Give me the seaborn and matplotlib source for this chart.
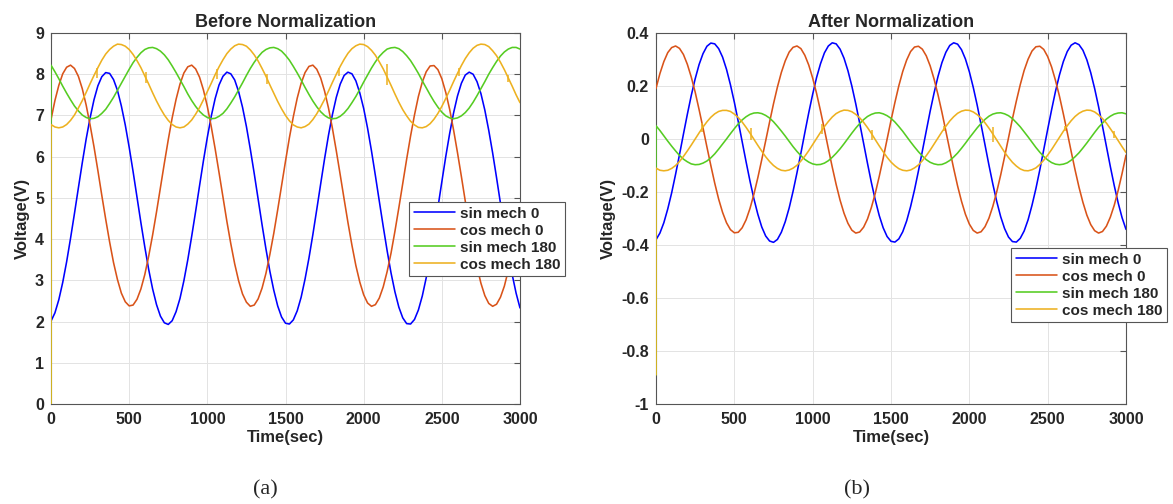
"""
Resolver outputs before and after normalization (two panels).
"""
import numpy as np
import pandas as pd
import seaborn as sns
import matplotlib.pyplot as plt

# sample times (sec)
t = list(range(0, 3001, 25))

# ---- panel (a): before normalization, volts ----
sin0_a = [2.01, 2.21, 2.53, 2.95, 3.45, 4.02, 4.62, 5.24, 5.85, 6.43,
          6.94, 7.38, 7.72, 7.94, 8.04, 8.02, 7.87, 7.61, 7.23, 6.77,
          6.23, 5.64, 5.02, 4.40, 3.81, 3.26, 2.79, 2.41, 2.13, 1.97,
          1.93, 2.02, 2.24, 2.56, 2.99, 3.50, 4.07, 4.67, 5.29, 5.90,
          6.47, 6.98, 7.41, 7.74, 7.95, 8.05, 8.01, 7.86, 7.58, 7.20,
          6.73, 6.18, 5.59, 4.97, 4.35, 3.76, 3.22, 2.76, 2.38, 2.11,
          1.96, 1.94, 2.04, 2.26, 2.59, 3.03, 3.54, 4.11, 4.72, 5.34,
          5.95, 6.52, 7.02, 7.44, 7.76, 7.97, 8.05, 8.01, 7.84, 7.55,
          7.17, 6.69, 6.14, 5.54, 4.92, 4.31, 3.72, 3.18, 2.72, 2.35,
          2.09, 1.95, 1.94, 2.05, 2.28, 2.62, 3.06, 3.58, 4.16, 4.77,
          5.39, 6.00, 6.56, 7.06, 7.47, 7.78, 7.98, 8.05, 8.00, 7.82,
          7.53, 7.13, 6.64, 6.09, 5.49, 4.87, 4.26, 3.67, 3.14, 2.69,
          2.33]
cos0_a = [6.90, 7.36, 7.73, 8.01, 8.17, 8.22, 8.14, 7.95, 7.65, 7.25,
          6.77, 6.24, 5.66, 5.06, 4.48, 3.93, 3.43, 3.02, 2.69, 2.48,
          2.38, 2.40, 2.54, 2.79, 3.14, 3.59, 4.10, 4.66, 5.25, 5.84,
          6.41, 6.94, 7.39, 7.76, 8.03, 8.18, 8.22, 8.13, 7.93, 7.62,
          7.22, 6.73, 6.19, 5.61, 5.02, 4.43, 3.89, 3.40, 2.99, 2.67,
          2.47, 2.37, 2.40, 2.55, 2.81, 3.17, 3.63, 4.14, 4.71, 5.30,
          5.89, 6.46, 6.97, 7.42, 7.78, 8.04, 8.19, 8.22, 8.12, 7.91,
          7.59, 7.18, 6.69, 6.14, 5.56, 4.97, 4.39, 3.85, 3.36, 2.96,
          2.65, 2.45, 2.37, 2.41, 2.57, 2.84, 3.21, 3.66, 4.19, 4.76,
          5.35, 5.94, 6.50, 7.01, 7.46, 7.81, 8.06, 8.20, 8.21, 8.11,
          7.89, 7.56, 7.15, 6.65, 6.10, 5.52, 4.92, 4.34, 3.81, 3.33,
          2.93, 2.63, 2.44, 2.37, 2.42, 2.59, 2.86, 3.24, 3.70, 4.23,
          4.80]
sin180_a = [8.22, 8.06, 7.89, 7.71, 7.54, 7.38, 7.23, 7.11, 7.01, 6.95,
            6.92, 6.93, 6.97, 7.05, 7.15, 7.29, 7.44, 7.61, 7.78, 7.95,
            8.12, 8.28, 8.41, 8.52, 8.60, 8.64, 8.65, 8.62, 8.56, 8.47,
            8.35, 8.20, 8.04, 7.87, 7.70, 7.52, 7.36, 7.22, 7.10, 7.01,
            6.95, 6.92, 6.93, 6.98, 7.05, 7.16, 7.30, 7.45, 7.62, 7.79,
            7.97, 8.14, 8.29, 8.42, 8.53, 8.60, 8.64, 8.65, 8.62, 8.56,
            8.46, 8.34, 8.19, 8.03, 7.86, 7.68, 7.51, 7.35, 7.21, 7.09,
            7.00, 6.94, 6.92, 6.93, 6.98, 7.06, 7.17, 7.31, 7.46, 7.63,
            7.81, 7.98, 8.15, 8.30, 8.43, 8.53, 8.61, 8.64, 8.65, 8.62,
            8.55, 8.45, 8.33, 8.18, 8.02, 7.84, 7.67, 7.50, 7.34, 7.20,
            7.08, 6.99, 6.94, 6.92, 6.94, 6.99, 7.07, 7.18, 7.32, 7.48,
            7.65, 7.82, 8.00, 8.16, 8.31, 8.44, 8.54, 8.61, 8.65, 8.65,
            8.61]
cos180_a = [6.78, 6.72, 6.70, 6.72, 6.78, 6.88, 7.01, 7.18, 7.36, 7.56,
            7.77, 7.97, 8.16, 8.34, 8.49, 8.60, 8.68, 8.73, 8.72, 8.68,
            8.60, 8.48, 8.33, 8.16, 7.96, 7.76, 7.55, 7.35, 7.17, 7.01,
            6.88, 6.78, 6.72, 6.70, 6.72, 6.79, 6.89, 7.03, 7.19, 7.38,
            7.58, 7.78, 7.99, 8.18, 8.35, 8.50, 8.61, 8.69, 8.73, 8.72,
            8.68, 8.59, 8.47, 8.32, 8.14, 7.95, 7.74, 7.54, 7.34, 7.16,
            7.00, 6.87, 6.77, 6.72, 6.70, 6.73, 6.79, 6.90, 7.04, 7.21,
            7.39, 7.59, 7.80, 8.00, 8.19, 8.36, 8.51, 8.62, 8.69, 8.73,
            8.72, 8.67, 8.58, 8.46, 8.30, 8.13, 7.93, 7.73, 7.52, 7.32,
            7.14, 6.99, 6.86, 6.77, 6.71, 6.70, 6.73, 6.80, 6.91, 7.05,
            7.22, 7.41, 7.61, 7.82, 8.02, 8.21, 8.38, 8.52, 8.63, 8.70,
            8.73, 8.72, 8.67, 8.57, 8.45, 8.29, 8.11, 7.91, 7.71, 7.50,
            7.31]
init_a = 0.0   # first sample of the 180 deg channels

# ---- panel (b): after normalization ----
sin0_b = [-0.380, -0.355, -0.316, -0.264, -0.203, -0.133, -0.059, 0.018, 0.093, 0.164,
          0.227, 0.281, 0.322, 0.350, 0.362, 0.359, 0.341, 0.309, 0.263, 0.205,
          0.139, 0.066, -0.010, -0.086, -0.159, -0.226, -0.284, -0.332, -0.366, -0.385,
          -0.390, -0.379, -0.352, -0.312, -0.260, -0.197, -0.127, -0.053, 0.024, 0.099,
          0.169, 0.232, 0.284, 0.325, 0.351, 0.363, 0.359, 0.339, 0.305, 0.258,
          0.200, 0.133, 0.060, -0.016, -0.092, -0.165, -0.231, -0.289, -0.335, -0.368,
          -0.386, -0.389, -0.377, -0.350, -0.309, -0.255, -0.192, -0.121, -0.046, 0.030,
          0.105, 0.174, 0.236, 0.288, 0.327, 0.353, 0.363, 0.358, 0.337, 0.302,
          0.254, 0.195, 0.128, 0.054, -0.022, -0.098, -0.170, -0.236, -0.293, -0.338,
          -0.370, -0.387, -0.389, -0.375, -0.347, -0.305, -0.250, -0.187, -0.116, -0.040,
          0.036, 0.110, 0.180, 0.241, 0.292, 0.330, 0.354, 0.363, 0.356, 0.335,
          0.299, 0.250, 0.190, 0.122, 0.048, -0.028, -0.104, -0.176, -0.241, -0.297,
          -0.341]
cos0_b = [0.191, 0.247, 0.292, 0.326, 0.345, 0.351, 0.342, 0.319, 0.282, 0.234,
          0.177, 0.111, 0.042, -0.030, -0.100, -0.167, -0.227, -0.277, -0.316, -0.342,
          -0.354, -0.352, -0.335, -0.305, -0.262, -0.208, -0.146, -0.078, -0.007, 0.064,
          0.133, 0.196, 0.251, 0.295, 0.328, 0.346, 0.351, 0.341, 0.316, 0.279,
          0.230, 0.172, 0.106, 0.036, -0.036, -0.106, -0.172, -0.231, -0.280, -0.318,
          -0.344, -0.355, -0.351, -0.333, -0.302, -0.258, -0.204, -0.141, -0.073, -0.001,
          0.070, 0.138, 0.201, 0.255, 0.298, 0.330, 0.347, 0.350, 0.339, 0.314,
          0.276, 0.226, 0.167, 0.101, 0.030, -0.041, -0.111, -0.177, -0.235, -0.284,
          -0.321, -0.345, -0.355, -0.350, -0.331, -0.299, -0.254, -0.199, -0.136, -0.067,
          0.004, 0.076, 0.143, 0.205, 0.259, 0.301, 0.332, 0.348, 0.350, 0.338,
          0.311, 0.272, 0.221, 0.162, 0.095, 0.025, -0.047, -0.117, -0.182, -0.239,
          -0.287, -0.323, -0.346, -0.355, -0.349, -0.329, -0.295, -0.250, -0.194, -0.130,
          -0.061]
sin180_b = [0.050, 0.032, 0.012, -0.008, -0.027, -0.045, -0.062, -0.076, -0.086, -0.094,
            -0.097, -0.096, -0.091, -0.083, -0.071, -0.056, -0.038, -0.019, 0.000, 0.020,
            0.039, 0.057, 0.072, 0.084, 0.093, 0.098, 0.099, 0.096, 0.089, 0.079,
            0.065, 0.048, 0.030, 0.011, -0.009, -0.029, -0.047, -0.063, -0.077, -0.087,
            -0.094, -0.097, -0.096, -0.091, -0.082, -0.069, -0.054, -0.037, -0.018, 0.002,
            0.022, 0.041, 0.058, 0.073, 0.085, 0.093, 0.098, 0.099, 0.095, 0.088,
            0.078, 0.064, 0.047, 0.029, 0.009, -0.011, -0.030, -0.048, -0.064, -0.078,
            -0.088, -0.094, -0.097, -0.096, -0.090, -0.081, -0.068, -0.053, -0.035, -0.016,
            0.004, 0.023, 0.042, 0.059, 0.074, 0.086, 0.094, 0.098, 0.099, 0.095,
            0.088, 0.077, 0.062, 0.046, 0.027, 0.008, -0.012, -0.032, -0.050, -0.066,
            -0.079, -0.089, -0.095, -0.097, -0.095, -0.090, -0.080, -0.067, -0.052, -0.034,
            -0.015, 0.005, 0.025, 0.044, 0.060, 0.075, 0.086, 0.094, 0.098, 0.099,
            0.095]
cos180_b = [-0.110, -0.118, -0.120, -0.118, -0.111, -0.100, -0.085, -0.066, -0.045, -0.023,
            0.000, 0.023, 0.045, 0.065, 0.082, 0.095, 0.104, 0.108, 0.108, 0.104,
            0.094, 0.081, 0.064, 0.044, 0.022, -0.001, -0.024, -0.046, -0.067, -0.085,
            -0.100, -0.111, -0.118, -0.120, -0.117, -0.110, -0.099, -0.083, -0.065, -0.044,
            -0.021, 0.002, 0.025, 0.047, 0.066, 0.083, 0.096, 0.104, 0.109, 0.108,
            0.103, 0.093, 0.080, 0.063, 0.043, 0.021, -0.003, -0.026, -0.048, -0.069,
            -0.087, -0.101, -0.112, -0.118, -0.120, -0.117, -0.109, -0.098, -0.082, -0.063,
            -0.042, -0.019, 0.004, 0.027, 0.048, 0.068, 0.084, 0.097, 0.105, 0.109,
            0.108, 0.102, 0.092, 0.079, 0.061, 0.041, 0.019, -0.004, -0.027, -0.050,
            -0.070, -0.088, -0.102, -0.113, -0.119, -0.120, -0.116, -0.109, -0.096, -0.080,
            -0.061, -0.040, -0.017, 0.006, 0.029, 0.050, 0.069, 0.085, 0.097, 0.105,
            0.109, 0.108, 0.102, 0.091, 0.077, 0.060, 0.039, 0.017, -0.006, -0.029,
            -0.051]
init_b = -0.89

# short spikes on the cos mech 180 channel
glitch_t = [292, 606, 1060, 1380, 1840, 2150, 2610, 2925]
glitch_lo_a = [7.92, 7.78, 7.88, 7.76, 7.95, 7.75, 7.95, 7.82]
glitch_hi_a = [8.14, 8.05, 8.12, 8.00, 8.15, 8.25, 8.14, 7.98]
glitch_lo_b = [0.025, -0.005, 0.020, -0.005, 0.030, -0.010, 0.030, 0.005]
glitch_hi_b = [0.060, 0.040, 0.055, 0.035, 0.050, 0.045, 0.050, 0.030]

labels = ['sin mech 0', 'cos mech 0', 'sin mech 180', 'cos mech 180']
colors = ['#0000FF', '#D95319', '#55CC22', '#EDB120']

W, H = 1173, 504


def series_frame(vals, init=None):
    if init is None:
        return pd.DataFrame({'t': t, 'v': vals})
    return pd.DataFrame({'t': [0] + t, 'v': [init] + vals})


def draw_panel(ax, data, inits, g_lo, g_hi, yticks, title, leg_xy):
    for vals, init, lab, col in zip(data, inits, labels, colors):
        df = series_frame(vals, init)
        sns.lineplot(data=df, x='t', y='v', ax=ax, color=col, lw=1.15,
                     estimator=None, sort=False, label=lab, zorder=3)
    ax.vlines(glitch_t, g_lo, g_hi, color=colors[3], lw=1.1, zorder=3)

    ax.set_xlim(0, 3000)
    ax.set_ylim(yticks[0], yticks[-1])
    ax.set_xticks(range(0, 3001, 500))
    ax.set_yticks(yticks)
    ax.set_yticklabels(['%g' % v for v in yticks])
    ax.grid(True, color='#e3e3e3', lw=0.7)
    ax.tick_params(direction='in', length=4, top=True, right=True,
                   colors='#555555', labelcolor='#262626', labelsize=11.5)
    ax.tick_params(axis='x', pad=6)
    ax.tick_params(axis='y', pad=5)
    for lab in ax.get_xticklabels() + ax.get_yticklabels():
        lab.set_fontweight('bold')
    for sp in ax.spines.values():
        sp.set_color('#555555')
        sp.set_linewidth(0.8)
    ax.set_xlabel('Time(sec)', fontsize=12, fontweight='bold',
                  color='#262626', labelpad=2)
    ax.set_ylabel('Voltage(V)', fontsize=12, fontweight='bold',
                  color='#262626', labelpad=4)
    ax.set_title(title, fontsize=13, fontweight='bold', pad=4)

    leg = ax.legend(loc='upper left', bbox_to_anchor=leg_xy,
                    bbox_transform=ax.figure.transFigure, borderaxespad=0,
                    fancybox=False, framealpha=1, edgecolor='#555555',
                    prop={'weight': 'bold', 'size': 11}, handlelength=2.7,
                    handletextpad=0.35, labelspacing=0.2, borderpad=0.3)
    leg.get_frame().set_linewidth(0.8)
    leg.set_zorder(5)


sns.set_style('white')
plt.rcParams['font.family'] = ['Liberation Sans', 'DejaVu Sans']

fig = plt.figure(figsize=(W / 100, H / 100), dpi=100)
ax_a = fig.add_axes([51 / W, 100 / H, 469 / W, 371 / H])
ax_b = fig.add_axes([656 / W, 100 / H, 470 / W, 371 / H])

draw_panel(ax_a, [sin0_a, cos0_a, sin180_a, cos180_a],
           [None, None, init_a, init_a], glitch_lo_a, glitch_hi_a,
           list(range(0, 10)), 'Before Normalization',
           (409 / W, 1 - 202 / H))
draw_panel(ax_b, [sin0_b, cos0_b, sin180_b, cos180_b],
           [None, None, init_b, init_b], glitch_lo_b, glitch_hi_b,
           [round(v, 1) + 0.0 for v in np.arange(-1, 0.41, 0.2)],
           'After Normalization',
           (1011 / W, 1 - 248 / H))

fig.text(265 / W, 1 - 490 / H, '(a)', ha='center', va='center',
         fontsize=16, family='Liberation Serif')
fig.text(857 / W, 1 - 490 / H, '(b)', ha='center', va='center',
         fontsize=16, family='Liberation Serif')

fig.savefig('out.png', dpi=100)
